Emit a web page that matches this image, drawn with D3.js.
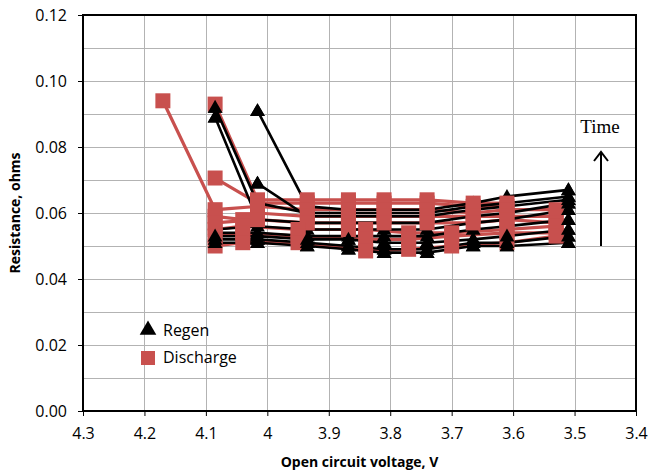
<!DOCTYPE html>
<html>
<head>
<meta charset="utf-8">
<script src="https://cdn.jsdelivr.net/npm/d3@7"></script>
<style>
  body { margin: 0; background: #fff; }
  .tick text { font-family: "Open Sans", sans-serif; font-size: 16px; fill: #000; }
</style>
</head>
<body>
<div id="chart"></div>
<script>
// x tick values (axis reversed: 4.3 on the left, 3.4 on the right)
const xTicks = [4.3, 4.2, 4.1, 4.0, 3.9, 3.8, 3.7, 3.6, 3.5, 3.4];
const yTicks = [0, 0.02, 0.04, 0.06, 0.08, 0.10, 0.12];

// regen series: open circuit voltage and resistance
const regenV = [
  [4.085, 4.016, 3.935, 3.868, 3.81, 3.74, 3.665, 3.61, 3.51],
  [4.085, 4.016, 3.935, 3.868, 3.81, 3.74, 3.665, 3.61, 3.51],
  [4.085, 4.016, 3.935, 3.868, 3.81, 3.74, 3.665, 3.61, 3.51],
  [4.085, 4.016, 3.935, 3.868, 3.81, 3.74, 3.665, 3.61, 3.51],
  [4.085, 4.016, 3.935, 3.868, 3.81, 3.74, 3.665, 3.61, 3.51],
  [4.085, 4.016, 3.935, 3.868, 3.81, 3.74, 3.665, 3.61, 3.51],
  [4.016, 3.935, 3.868, 3.81, 3.74, 3.665, 3.61, 3.51],
  [4.016, 3.935, 3.868, 3.81, 3.74, 3.665, 3.61, 3.51],
  [4.085, 4.016, 3.935, 3.868, 3.81, 3.74, 3.665, 3.61, 3.51]
];
const regenR = [
  [0.051, 0.051, 0.050, 0.049, 0.048, 0.048, 0.050, 0.050, 0.051],
  [0.052, 0.052, 0.051, 0.050, 0.049, 0.049, 0.051, 0.051, 0.053],
  [0.053, 0.053, 0.052, 0.052, 0.051, 0.051, 0.052, 0.053, 0.055],
  [0.054, 0.054, 0.053, 0.053, 0.053, 0.053, 0.055, 0.056, 0.058],
  [0.055, 0.056, 0.055, 0.055, 0.055, 0.055, 0.057, 0.058, 0.061],
  [0.089, 0.058, 0.057, 0.057, 0.057, 0.057, 0.059, 0.060, 0.063],
  [0.069, 0.059, 0.059, 0.059, 0.059, 0.061, 0.062, 0.064],
  [0.091, 0.062, 0.061, 0.061, 0.061, 0.063, 0.065, 0.067],
  [0.092, 0.063, 0.060, 0.060, 0.060, 0.060, 0.062, 0.063, 0.065]
];

// discharge series
const dischargeV = [
  [4.085, 4.016, 3.935, 3.868, 3.81, 3.74, 3.665, 3.61],
  [4.085, 4.016, 3.935, 3.868, 3.81, 3.74, 3.665, 3.61],
  [4.17, 4.085, 4.016, 3.935, 3.868, 3.81, 3.74, 3.665, 3.61, 3.53],
  [4.085, 4.04, 4.016, 3.935, 3.868, 3.81, 3.74, 3.665, 3.61, 3.53],
  [4.085, 4.016, 3.935, 3.868, 3.81, 3.74, 3.665, 3.61, 3.53],
  [4.085, 4.04, 3.95, 3.868, 3.84, 3.77, 3.70, 3.61, 3.53],
  [4.085, 4.04, 3.95, 3.84, 3.77, 3.70, 3.61, 3.53],
  [4.085, 4.04, 3.95, 3.84, 3.77, 3.70, 3.61, 3.53]
];
const dischargeR = [
  [0.093, 0.064, 0.064, 0.064, 0.064, 0.064, 0.063, 0.063],
  [0.0706, 0.063, 0.063, 0.063, 0.063, 0.063, 0.062, 0.062],
  [0.094, 0.061, 0.062, 0.061, 0.061, 0.061, 0.061, 0.060, 0.061, 0.061],
  [0.059, 0.058, 0.060, 0.059, 0.059, 0.059, 0.059, 0.059, 0.059, 0.059],
  [0.057, 0.058, 0.057, 0.057, 0.057, 0.057, 0.057, 0.058, 0.057],
  [0.055, 0.056, 0.055, 0.055, 0.055, 0.054, 0.054, 0.055, 0.056],
  [0.053, 0.054, 0.053, 0.052, 0.052, 0.053, 0.054, 0.054],
  [0.050, 0.051, 0.051, 0.0485, 0.049, 0.050, 0.051, 0.053]
];

const RED = "#c8504e";

let dimensions = {
  width: 652,
  height: 473,
  margin: { top: 15, bottom: 62, left: 83, right: 16 }
};
dimensions.containerWidth = dimensions.width - dimensions.margin.left - dimensions.margin.right;
dimensions.containerHeight = dimensions.height - dimensions.margin.top - dimensions.margin.bottom;

const svg = d3.select("#chart").append("svg")
  .attr("width", dimensions.width)
  .attr("height", dimensions.height);

const container = svg.append("g")
  .attr("transform", `translate(${dimensions.margin.left}, ${dimensions.margin.top})`);

const xScale = d3.scaleLinear()
  .domain([4.3, 3.4])
  .range([0, dimensions.containerWidth]);

const yScale = d3.scaleLinear()
  .domain([0, 0.12])
  .range([dimensions.containerHeight, 0]);

// gridlines
container.append("g")
  .selectAll("line")
  .data(d3.range(1, 12).map(i => i * 0.01))
  .join("line")
  .attr("x1", 0)
  .attr("x2", dimensions.containerWidth)
  .attr("y1", d => Math.round(yScale(d)) + 0.5)
  .attr("y2", d => Math.round(yScale(d)) + 0.5)
  .attr("stroke", "#b3b3b3");

container.append("g")
  .selectAll("line")
  .data(xTicks.slice(1, -1))
  .join("line")
  .attr("x1", d => Math.round(xScale(d)) + 0.5)
  .attr("x2", d => Math.round(xScale(d)) + 0.5)
  .attr("y1", 0)
  .attr("y2", dimensions.containerHeight)
  .attr("stroke", "#b3b3b3");

// series
const line = d3.line()
  .x(d => xScale(d[0]))
  .y(d => yScale(d[1]));

const tri = d3.symbol().type(d3.symbolTriangle).size(95);

const regenPts = regenV.map((vs, i) => vs.map((v, j) => [v, regenR[i][j]]));
const dischargePts = dischargeV.map((vs, i) => vs.map((v, j) => [v, dischargeR[i][j]]));

function regenLine(pts) {
  container.append("path")
    .attr("d", line(pts))
    .attr("fill", "none")
    .attr("stroke", "#000")
    .attr("stroke-width", 2.6);
}

function regenMarkers(pts) {
  container.append("g")
    .selectAll("path")
    .data(pts)
    .join("path")
    .attr("d", tri)
    .attr("transform", d => `translate(${xScale(d[0])}, ${yScale(d[1]) + 1})`)
    .attr("fill", "#000");
}

function dischargeLine(pts) {
  container.append("path")
    .attr("d", line(pts))
    .attr("fill", "none")
    .attr("stroke", RED)
    .attr("stroke-width", 3.2);
}

function dischargeMarkers(pts) {
  container.append("g")
    .selectAll("rect")
    .data(pts)
    .join("rect")
    .attr("x", d => xScale(d[0]) - 7.5)
    .attr("y", d => yScale(d[1]) - 7.5)
    .attr("width", 15)
    .attr("height", 15)
    .attr("fill", RED);
}

// red lines, black lines and triangles, red squares, then low rows / right-end triangles
dischargePts.forEach(dischargeLine);
regenPts.forEach(pts => { regenLine(pts); regenMarkers(pts); });
dischargePts.forEach(dischargeMarkers);
regenPts.forEach((pts, i) => {
  regenMarkers(pts.filter(d => i < 3 || d[0] < 3.55 || d[1] > 0.066));
});

// axes
const xAxis = d3.axisBottom(xScale)
  .tickValues(xTicks)
  .tickFormat(d => d === 4 ? "4" : d3.format(".1f")(d))
  .tickSize(5)
  .tickPadding(12);

container.append("g")
  .attr("transform", `translate(0, ${dimensions.containerHeight})`)
  .call(xAxis)
  .call(g => g.select(".domain").remove())
  .call(g => g.selectAll(".tick line").attr("stroke", "#000"));

const yAxis = d3.axisLeft(yScale)
  .tickValues(yTicks)
  .tickFormat(d3.format(".2f"))
  .tickSize(5)
  .tickPadding(11);

container.append("g")
  .call(yAxis)
  .call(g => g.select(".domain").remove())
  .call(g => g.selectAll(".tick line").attr("stroke", "#000"));

// plot frame
container.append("rect")
  .attr("x", 0)
  .attr("y", 0)
  .attr("width", dimensions.containerWidth)
  .attr("height", dimensions.containerHeight)
  .attr("fill", "none")
  .attr("stroke", "#000")
  .attr("stroke-width", 2);

// axis titles
svg.append("text")
  .attr("x", dimensions.margin.left + dimensions.containerWidth / 2)
  .attr("y", 467)
  .attr("text-anchor", "middle")
  .style("font-family", "Open Sans, sans-serif")
  .style("font-weight", "bold")
  .style("font-size", "14px")
  .text("Open circuit voltage, V");

svg.append("text")
  .attr("transform", `translate(20, ${dimensions.margin.top + dimensions.containerHeight / 2}) rotate(-90)`)
  .attr("text-anchor", "middle")
  .style("font-family", "Open Sans, sans-serif")
  .style("font-weight", "bold")
  .style("font-size", "14px")
  .text("Resistance, ohms");

// legend
const legend = svg.append("g").attr("transform", "translate(148, 330)");
legend.append("path")
  .attr("d", d3.symbol().type(d3.symbolTriangle).size(120))
  .attr("fill", "#000");
legend.append("text")
  .attr("x", 15).attr("y", 6)
  .style("font-family", "Open Sans, sans-serif")
  .style("font-size", "16px")
  .text("Regen");
legend.append("rect")
  .attr("x", -7).attr("y", 21)
  .attr("width", 14).attr("height", 14)
  .attr("fill", RED);
legend.append("text")
  .attr("x", 15).attr("y", 33)
  .style("font-family", "Open Sans, sans-serif")
  .style("font-size", "16px")
  .text("Discharge");

// time annotation
svg.append("text")
  .attr("x", 600)
  .attr("y", 133)
  .attr("text-anchor", "middle")
  .style("font-family", "Liberation Serif, serif")
  .style("font-size", "19px")
  .text("Time");

svg.append("line")
  .attr("x1", 601).attr("x2", 601)
  .attr("y1", 246).attr("y2", 153)
  .attr("stroke", "#000")
  .attr("stroke-width", 2);
svg.append("path")
  .attr("d", "M594,161 L601,152 L608,161")
  .attr("fill", "none")
  .attr("stroke", "#000")
  .attr("stroke-width", 2);
</script>
</body>
</html>
